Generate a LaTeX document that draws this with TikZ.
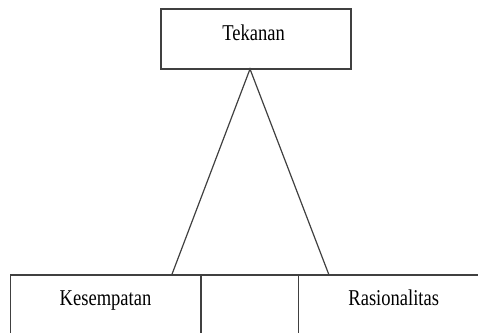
\documentclass[tikz,border=0pt]{standalone}
\usepackage{fontspec}
\setmainfont{Liberation Serif}
\usepackage{graphicx}
\begin{document}
\begin{tikzpicture}[x=1pt,y=1pt,
  boxst/.style={draw=black!75, line width=1.3pt, inner sep=0pt, rectangle},
  lbl/.style={inner sep=0pt, anchor=base, font=\fontsize{22.6}{27}\selectfont},
  edge/.style={draw=black!75, line width=1.2pt}]
\useasboundingbox (0,0) rectangle (478,332);
\clip (0,0) rectangle (478,332);
% top box
\node[boxst, minimum width=190pt, minimum height=60pt] (tek) at (256,293) {};
% bottom boxes
\node[boxst, minimum width=190.3pt, minimum height=70pt] (kes) at (105.85,22) {};
\node[boxst, minimum width=97.3pt, minimum height=70pt] (mid) at (249.65,22) {};
\node[boxst, minimum width=191.7pt, minimum height=70pt] (ras) at (394.15,22) {};
% labels
\node[lbl] (ltek) at (253.5,291.3) {\scalebox{0.82}[1]{Tekanan}};
\node[lbl] (lkes) at (105.5,26.3) {\scalebox{0.82}[1]{Kesempatan}};
\node[lbl] (lras) at (393.7,26.3) {\scalebox{0.82}[1]{Rasionalitas}};
% triangle
\coordinate (apex) at (250,263);
\coordinate (bl) at (171.7,57);
\coordinate (br) at (329,57);
\draw[edge, line join=miter] (bl) -- (apex) -- (br);
\draw[edge] (bl) -- (br);
\end{tikzpicture}
\end{document}
